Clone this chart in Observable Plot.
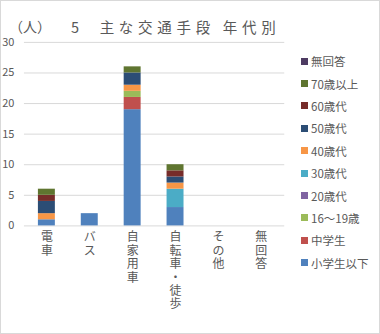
<!DOCTYPE html>
<html><head><meta charset="utf-8">
<script src="https://cdn.jsdelivr.net/npm/d3@7"></script>
<script src="https://cdn.jsdelivr.net/npm/@observablehq/plot@0.6"></script>
<style>
html,body{margin:0;padding:0;background:#fff;}
#wrap{position:relative;width:378px;height:332px;border:1px solid #d9d9d9;overflow:hidden;font-family:"Noto Sans CJK JP",sans-serif;color:#595959;}
#unit{position:absolute;left:8px;top:15px;font-size:14px;}
#title{position:absolute;left:70px;top:15px;font-size:14.5px;letter-spacing:4.7px;white-space:pre;}
#chart{position:absolute;left:-1px;top:-1px;}
#legend{position:absolute;left:300px;top:49px;font-size:11.5px;}
#legend div{height:22.4px;display:flex;align-items:center;white-space:nowrap;}
#legend span.sw{display:inline-block;width:7px;height:7px;margin-right:3px;}
</style></head>
<body><div id="wrap"><div id="chart"></div><div id="unit">（人）</div><div id="title">5  主な交通手段 年代別</div><div id="legend"></div></div>
<script>
const categories = ["電車","バス","自家用車","自転車・徒歩","その他","無回答"];
const groups = ["小学生以下","中学生","16～19歳","20歳代","30歳代","40歳代","50歳代","60歳代","70歳以上","無回答"];
const colors = ["#4F81BD","#C0504D","#9BBB59","#8064A2","#4BACC6","#F79646","#2C4D75","#772C2A","#5F7530","#4D3B62"];
// values per group, aligned to categories
const 小学生以下 = [1,2,19,3,0,0];
const 中学生 = [0,0,2,0,0,0];
const 十六十九歳 = [0,0,1,0,0,0];
const 二十歳代 = [0,0,0,0,0,0];
const 三十歳代 = [0,0,0,3,0,0];
const 四十歳代 = [1,0,1,1,0,0];
const 五十歳代 = [2,0,2,1,0,0];
const 六十歳代 = [1,0,0,1,0,0];
const 七十歳以上 = [1,0,1,1,0,0];
const 無回答 = [0,0,0,0,0,0];
const yTicks = [0,5,10,15,20,25,30];

const series = [小学生以下,中学生,十六十九歳,二十歳代,三十歳代,四十歳代,五十歳代,六十歳代,七十歳以上,無回答];
const data = [];
series.forEach((vals,gi)=>vals.forEach((v,ci)=>data.push({cat:categories[ci],group:groups[gi],value:v})));

const plot = Plot.plot({
  width:380, height:334,
  marginTop:42, marginBottom:108, marginLeft:24, marginRight:95,
  style:{fontFamily:'"Noto Sans CJK JP",sans-serif',color:"#595959",background:"transparent"},
  x:{domain:categories, padding:0.6, paddingOuter:0.3},
  y:{domain:[0,30], ticks:yTicks},
  color:{domain:groups, range:colors},
  marks:[
    Plot.ruleY(yTicks,{y:d=>d,stroke:"#d9d9d9",strokeWidth:1}),
    Plot.barY(data,{x:"cat",y:"value",fill:"group",order:groups}),
    Plot.axisY(yTicks,{tickSize:0,tickPadding:10,fontSize:11,fill:"#595959",label:null}),
    Plot.axisX({tickSize:0,tickPadding:6,tickFormat:d=>Array.from(d).join("\n"),lineHeight:1.12,fontSize:12,fill:"#595959",label:null})
  ]
});
document.getElementById("chart").appendChild(plot);
const lg = document.getElementById("legend");
for(let i=groups.length-1;i>=0;i--){
  const d=document.createElement("div");
  d.innerHTML=`<span class="sw" style="background:${colors[i]}"></span>${groups[i]}`;
  lg.appendChild(d);
}
</script></body></html>
